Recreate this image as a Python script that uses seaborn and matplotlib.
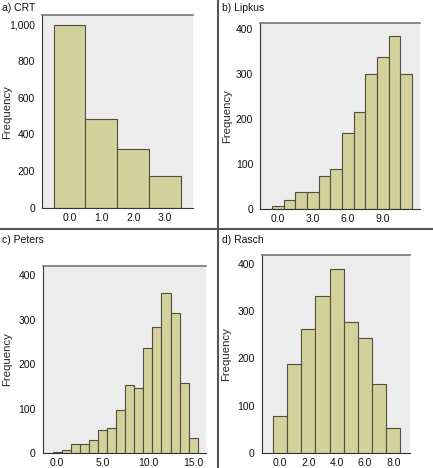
import numpy as np
import pandas as pd
import seaborn as sns
import matplotlib.pyplot as plt
from matplotlib.lines import Line2D
from matplotlib.ticker import FuncFormatter

# score values and their frequencies for each numeracy scale
crt_scores = [0, 1, 2, 3]
crt_counts = [998, 484, 320, 173]

lipkus_scores = [0, 1, 2, 3, 4, 5, 6, 7, 8, 9, 10, 11]
lipkus_counts = [6, 19, 37, 38, 74, 89, 170, 215, 301, 337, 384, 301]

peters_scores = [0, 1, 2, 3, 4, 5, 6, 7, 8, 9, 10, 11, 12, 13, 14, 15]
peters_counts = [4, 8, 22, 21, 29, 52, 56, 97, 153, 147, 236, 285, 360, 315, 158, 34]

rasch_scores = [0, 1, 2, 3, 4, 5, 6, 7, 8]
rasch_counts = [78, 189, 263, 331, 389, 276, 242, 145, 52]

sns.set_style("white")
plt.rcParams['font.family'] = ['Liberation Sans', 'DejaVu Sans']
plt.rcParams['font.size'] = 7.5

BAR = "#D4D19C"
EDGE = "#4F4E3C"
BG = "#ECECEC"

fig = plt.figure(figsize=(4.33, 4.68), dpi=100)

panels = [
    # title, scores, counts, axes rect, xlim, ylim, xticks, yticks, ylabel x
    ("a) CRT", crt_scores, crt_counts, [0.097, 0.5556, 0.349, 0.412],
     (-0.86, 3.87), (0, 1049), [0, 1, 2, 3], [0, 200, 400, 600, 800, 1000], -0.200),
    ("b) Lipkus", lipkus_scores, lipkus_counts, [0.601, 0.5534, 0.369, 0.397],
     (-1.5, 12.2), (0, 413), [0, 3, 6, 9], [0, 100, 200, 300, 400], -0.177),
    ("c) Peters", peters_scores, peters_counts, [0.0986, 0.0314, 0.377, 0.401],
     (-1.6, 16.4), (0, 422), [0, 5, 10, 15], [0, 100, 200, 300, 400], -0.190),
    ("d) Rasch", rasch_scores, rasch_counts, [0.604, 0.0321, 0.3425, 0.4237],
     (-1.31, 9.16), (0, 419), [0, 2, 4, 6, 8], [0, 100, 200, 300, 400], -0.205),
]
title_pos = [(0.005, 0.993), (0.512, 0.993), (0.005, 0.497), (0.512, 0.497)]

for (title, scores, counts, rect, xl, yl, xt, yt, lx), tp in zip(panels, title_pos):
    ax = fig.add_axes(rect)
    df = pd.DataFrame({"score": scores, "n": counts})
    sns.histplot(data=df, x="score", weights="n", discrete=True, ax=ax,
                 color=BAR, alpha=1, edgecolor=EDGE, linewidth=0.8)
    ax.set_facecolor(BG)
    ax.set_xlim(*xl)
    ax.set_ylim(*yl)
    ax.set_xticks(xt)
    ax.set_yticks(yt)
    ax.xaxis.set_major_formatter(FuncFormatter(lambda v, p: f"{v:.1f}"))
    ax.yaxis.set_major_formatter(FuncFormatter(lambda v, p: f"{v:,.0f}"))
    ax.set_xlabel("")
    ax.set_ylabel("Frequency", fontsize=8.2)
    ax.yaxis.set_label_coords(lx, 0.5)
    ax.tick_params(axis="y", length=3, width=0.8, color="#333333",
                   labelsize=7.5, pad=2, labelcolor="#111111")
    ax.tick_params(axis="x", length=2, width=0.8, color="#333333",
                   labelsize=7.5, pad=1.5, labelcolor="#111111")
    for s in ["left", "bottom"]:
        ax.spines[s].set_color("#333333")
        ax.spines[s].set_linewidth(0.8)
    ax.spines["top"].set_color("#777777")
    ax.spines["top"].set_linewidth(1.2)
    ax.spines["right"].set_visible(False)
    fig.text(tp[0], tp[1], title, fontsize=7.5, ha="left", va="top", color="#111111")

# panel divider lines
fig.add_artist(Line2D([0, 1], [1 - 229 / 468] * 2, color="#555555", lw=1.5))
fig.add_artist(Line2D([218 / 433] * 2, [0, 1], color="#555555", lw=1.5))

fig.savefig("out.png", dpi=100)
